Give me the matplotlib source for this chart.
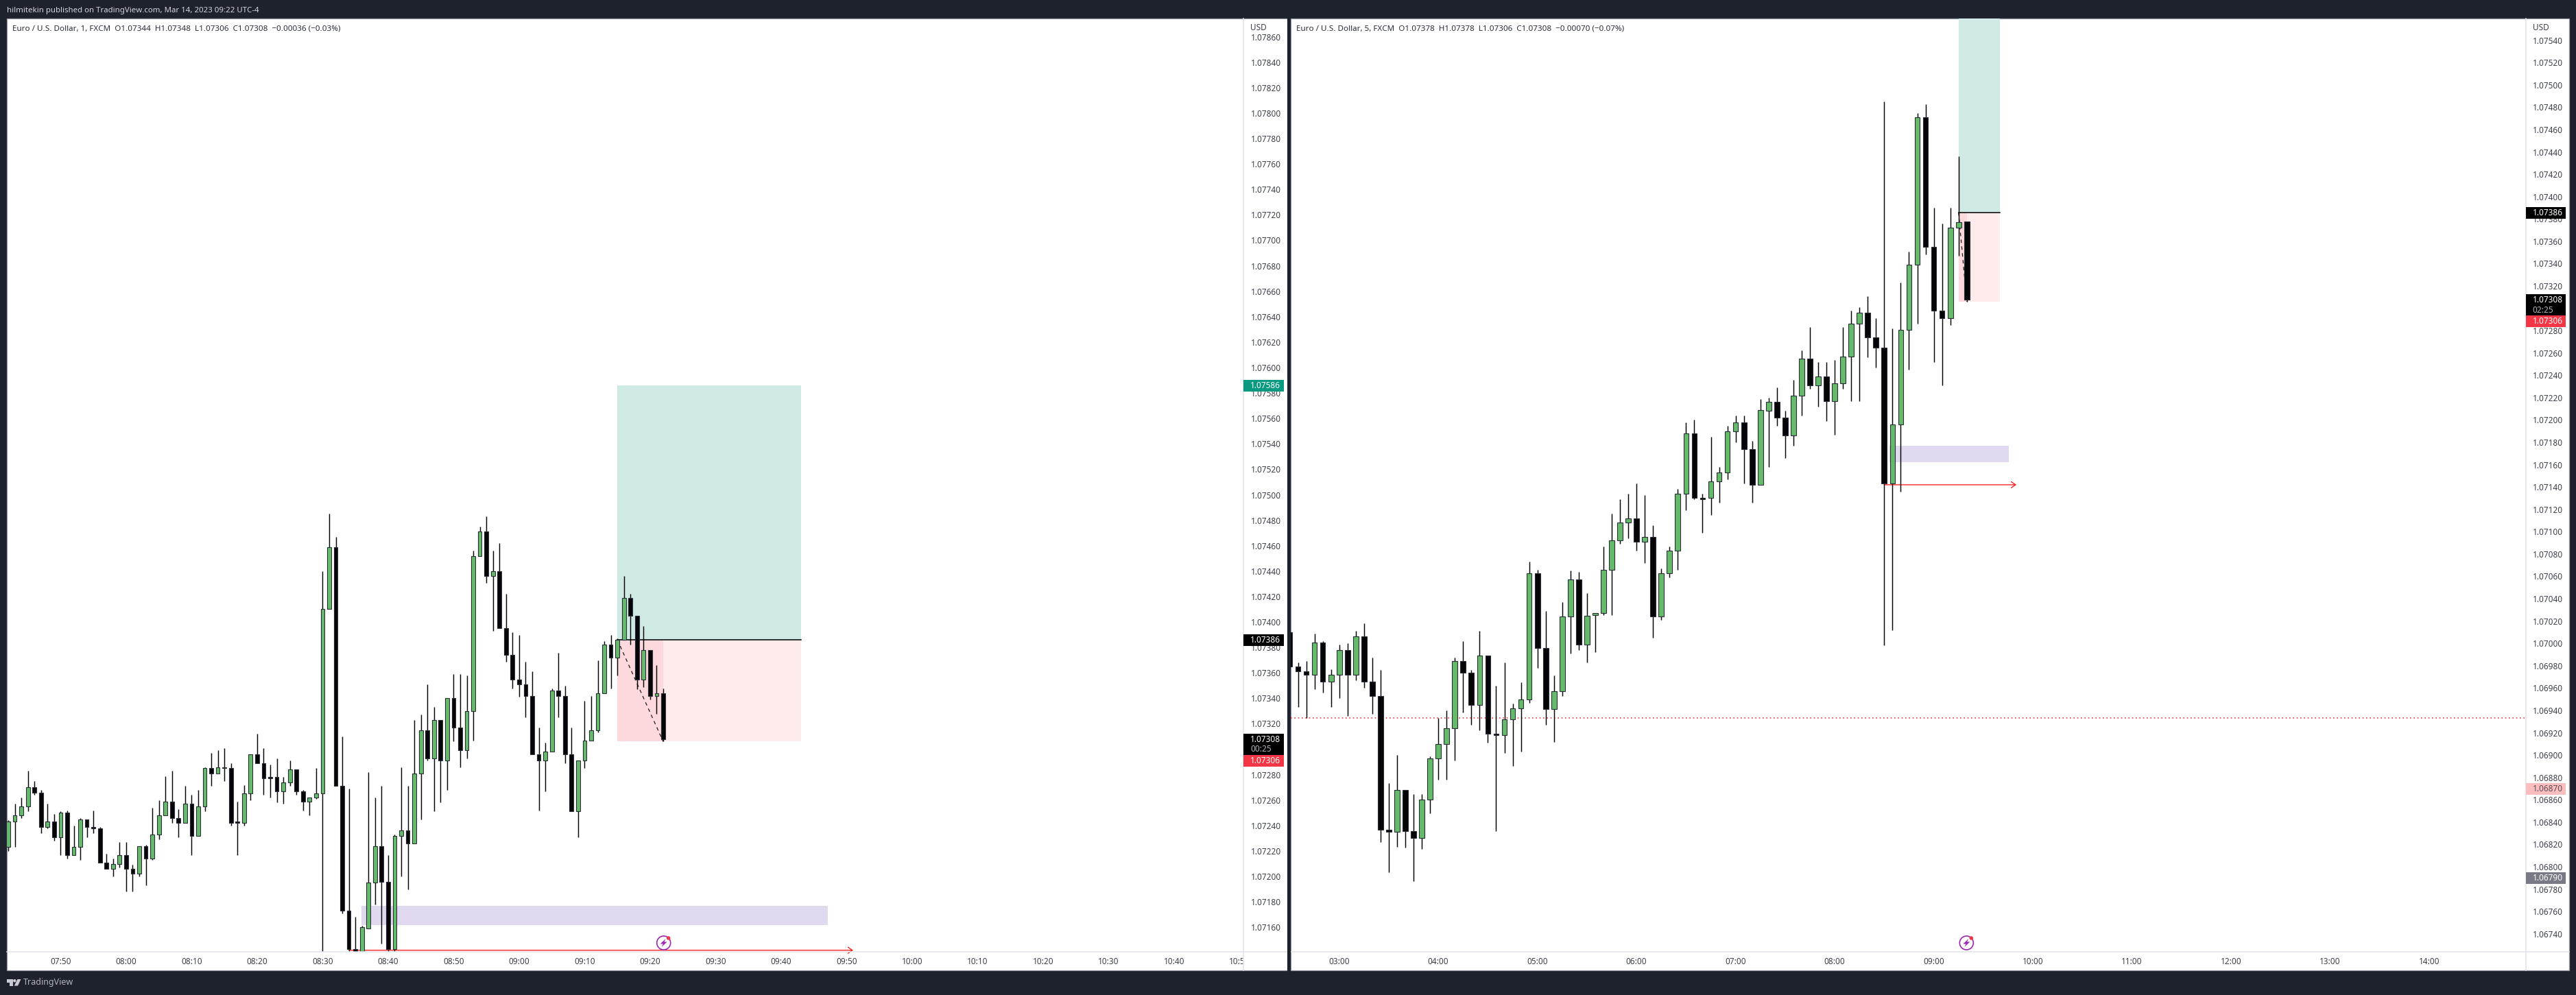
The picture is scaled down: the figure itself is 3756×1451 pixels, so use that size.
import matplotlib
matplotlib.use("Agg")
import matplotlib.pyplot as plt
from matplotlib.patches import Rectangle, Ellipse, Polygon
from matplotlib.transforms import Affine2D, Bbox

plt.rcParams['font.family'] = ['Noto Sans', 'DejaVu Sans']

W, H = 3756, 1451
POINT = 1e-5
L_BASE = 107000
R_BASE = 106000
L_START = 462   # 07:42, minutes
R_START = 150   # 02:30, minutes

# ---- 1 minute chart, points above L_BASE
L_OPEN = [223,243,248,255,270,266,239,243,231,250,217,223,245,239,238,211,206,210,217,206,202,224,214,233,248,259,246,242,257,232,255,285,281,286,285,243,242,265,296,289,278,278,267,274,284,267,259,262,265,410,459,271,173,143,120,159,195,224,196,143,232,236,226,281,315,293,323,291,340,317,299,330,452,471,436,440,395,374,355,351,342,296,291,298,346,342,296,251,291,307,315,344,382,372,386,419,405,355,378,342,344]
L_HIGH = [244,257,262,283,275,268,257,249,251,252,240,246,245,252,239,218,214,227,227,209,224,225,254,260,279,283,253,271,264,268,286,297,299,301,289,259,272,296,312,301,288,293,278,291,284,268,262,285,440,485,467,310,269,168,161,282,262,271,217,233,286,271,323,327,351,333,323,340,359,359,358,456,475,483,456,462,422,392,390,369,361,317,305,348,376,350,317,291,338,342,370,385,390,387,436,422,405,397,378,366,348]
L_LOW = [220,223,246,251,264,234,238,228,217,214,217,213,231,234,211,206,200,207,188,188,200,193,213,229,248,242,231,242,217,232,251,271,281,275,240,217,240,260,289,264,262,258,257,271,264,252,248,261,135,410,271,171,135,120,115,159,178,147,135,135,200,190,226,245,291,251,258,268,306,286,293,307,452,431,393,395,369,348,341,325,296,252,267,298,325,289,251,231,285,307,313,344,348,358,386,382,347,349,339,328,306]
L_CLOSE = [243,248,255,270,266,239,243,231,250,217,223,245,239,238,211,206,210,217,206,202,224,214,233,248,259,246,242,257,232,255,285,281,286,285,242,242,265,296,289,277,277,267,274,284,267,259,262,265,410,459,271,173,143,125,160,195,224,196,143,232,236,226,281,315,293,323,291,340,317,299,330,452,471,436,440,395,374,355,351,342,296,291,298,346,342,296,251,291,307,315,344,382,372,386,419,405,355,378,342,344,308]

# ---- 5 minute chart, points above R_BASE
R_OPEN = [1010,979,975,972,1001,966,972,994,972,1006,966,953,833,831,869,832,826,860,897,910,924,984,974,945,989,919,918,932,942,950,1063,996,941,957,1024,1057,999,1025,1027,1066,1092,1108,1112,1091,1095,1024,1063,1083,1134,1188,1130,1130,1145,1153,1190,1198,1174,1142,1208,1216,1202,1186,1222,1255,1231,1239,1217,1233,1257,1286,1296,1274,1265,1143,1196,1281,1339,1471,1355,1298,1291,1372,1378]
R_HIGH = [1010,983,984,1009,1002,977,999,1000,1011,1018,987,976,875,900,869,865,865,899,933,940,987,1002,976,1011,989,962,983,946,965,1073,1066,1029,971,1037,1065,1064,1045,1027,1087,1116,1129,1134,1143,1133,1106,1067,1087,1138,1198,1200,1134,1185,1158,1195,1204,1204,1181,1219,1220,1229,1208,1236,1262,1283,1252,1252,1254,1283,1298,1301,1311,1291,1485,1282,1323,1351,1475,1483,1390,1376,1390,1436,1378]
R_LOW = [979,943,933,959,956,943,951,935,967,960,937,822,795,818,817,787,816,848,878,878,895,938,927,922,911,832,902,890,903,947,978,927,912,953,991,994,983,992,1025,1025,1089,1094,1083,1072,1005,1021,1059,1066,1119,1129,1099,1115,1126,1147,1180,1143,1126,1142,1158,1195,1166,1177,1204,1228,1212,1199,1187,1228,1217,1217,1256,1247,998,1012,1136,1245,1286,1348,1252,1231,1285,1347,1306]
R_CLOSE = [979,975,972,1001,966,972,994,972,1006,966,953,833,831,869,832,826,860,897,910,924,984,974,945,989,919,918,932,942,950,1063,996,941,957,1024,1057,999,1025,1027,1066,1092,1108,1112,1091,1095,1024,1063,1083,1134,1188,1130,1129,1145,1153,1190,1198,1174,1142,1209,1216,1202,1186,1222,1255,1231,1239,1217,1233,1257,1286,1296,1274,1265,1143,1196,1281,1339,1471,1355,1298,1291,1372,1377,1308]

L_PRICE_LABELS = ["1.07160","1.07180","1.07200","1.07220","1.07240","1.07260","1.07280","1.07300","1.07320","1.07340","1.07360","1.07380","1.07400","1.07420","1.07440","1.07460","1.07480","1.07500","1.07520","1.07540","1.07560","1.07580","1.07600","1.07620","1.07640","1.07660","1.07680","1.07700","1.07720","1.07740","1.07760","1.07780","1.07800","1.07820","1.07840","1.07860"]
R_PRICE_LABELS = ["1.06740","1.06760","1.06780","1.06800","1.06820","1.06840","1.06860","1.06880","1.06900","1.06920","1.06940","1.06960","1.06980","1.07000","1.07020","1.07040","1.07060","1.07080","1.07100","1.07120","1.07140","1.07160","1.07180","1.07200","1.07220","1.07240","1.07260","1.07280","1.07300","1.07320","1.07340","1.07360","1.07380","1.07400","1.07420","1.07440","1.07460","1.07480","1.07500","1.07520","1.07540"]
L_TIME_LABELS = ["07:50","08:00","08:10","08:20","08:30","08:40","08:50","09:00","09:10","09:20","09:30","09:40","09:50","10:00","10:10","10:20","10:30","10:40","10:50"]
R_TIME_LABELS = ["03:00","04:00","05:00","06:00","07:00","08:00","09:00","10:00","11:00","12:00","13:00","14:00"]

HEADER = "hilmitekin published on TradingView.com, Mar 14, 2023 09:22 UTC-4"
L_LEGEND = "Euro / U.S. Dollar, 1, FXCM  O1.07344  H1.07348  L1.07306  C1.07308  \u22120.00036 (\u22120.03%)"
R_LEGEND = "Euro / U.S. Dollar, 5, FXCM  O1.07378  H1.07378  L1.07306  C1.07308  \u22120.00070 (\u22120.07%)"

# long-position tool / zones: prices
TRADE_TARGET_L, TRADE_ENTRY, TRADE_STOP = 1.07586, 1.07386, 1.07306
ZONE_TOP, ZONE_BOTTOM = 1.07177, 1.07162
ARROW_PRICE = 1.07142
DOTTED_PRICE = 1.06933

BG = '#1E222D'
GREEN = '#66BB6A'
BLACK = '#050507'
EDGE = '#2A2E39'
TXT = '#3D404A'
SEP = '#E0E3EB'
LABEL_SIZE = 8.5

fig = plt.figure(figsize=(W / 100, H / 100), dpi=100, facecolor=BG)
px = Affine2D().scale(1 / W, -1 / H).translate(0, 1) + fig.transFigure


def prect(x0, y0, x1, y1, z=3, **kw):
    r = Rectangle((x0, y0), x1 - x0, y1 - y0, transform=px, zorder=z, **kw)
    fig.add_artist(r)
    return r


def pline(xs, ys, z=3, **kw):
    l = plt.Line2D(xs, ys, transform=px, zorder=z, **kw)
    fig.add_artist(l)


def ptext(x, y, s, z=6, **kw):
    kw.setdefault('va', 'center')
    kw.setdefault('ha', 'left')
    return fig.text(x, y, s, transform=px, zorder=z, **kw)


def make_pane(x0, x1, pane_left, pane_right, t_ref, px_ref, px_per_min,
              p_ref, y_ref, px_per_point, price_labels, time_labels):
    prect(pane_left, 27, pane_right, 1415, z=-1, facecolor='white', edgecolor='#9598A1', linewidth=0.9)
    ax = fig.add_axes([x0 / W, 1 - 1388 / H, (x1 - x0) / W, (1388 - 27) / H])
    ax.patch.set_visible(False)
    for s in ax.spines.values():
        s.set_visible(False)
    ax.set_xlim(t_ref + (x0 - px_ref) / px_per_min, t_ref + (x1 - px_ref) / px_per_min)
    top = p_ref + (y_ref - 27) / px_per_point
    bot = p_ref - (1388 - y_ref) / px_per_point
    ax.set_ylim(bot * POINT, top * POINT)
    ax.yaxis.tick_right()
    ax.set_yticks([float(s) for s in price_labels], price_labels)
    ax.set_xticks([int(s[:2]) * 60 + int(s[3:]) for s in time_labels], time_labels)
    ax.tick_params(axis='both', length=0, labelsize=LABEL_SIZE, colors=TXT)
    ax.tick_params(axis='y', pad=7.4)
    ax.tick_params(axis='x', pad=5.6)
    clip = Bbox([[0, 0], [x1, H]])
    for t in ax.get_xticklabels():
        t.set_clip_on(True)
        t.set_clip_box(clip)
    pline([x1, x1], [27, 1415], z=1, color=SEP, lw=1.1)
    pline([pane_left, pane_right], [1388, 1388], z=1, color=SEP, lw=1.1)
    return ax


def candles(ax, start, step, base, op, hi, lo, cl, width, wick_lw, edge_lw):
    for i, (o, h, l, c) in enumerate(zip(op, hi, lo, cl)):
        t = start + i * step
        up = c >= o
        ax.vlines(t, (base + l) * POINT, (base + h) * POINT, color='black', lw=wick_lw, zorder=4)
        bottom = min(o, c)
        ax.bar(t, max(abs(c - o), 0.3) * POINT, bottom=(base + bottom) * POINT, width=width,
               color=GREEN if up else BLACK, edgecolor=EDGE, linewidth=edge_lw, zorder=5)


def trade(ax, t0, t_last, t1, target):
    ax.add_patch(Rectangle((t0, TRADE_ENTRY), t1 - t0, target - TRADE_ENTRY, color='#CFEAE4', lw=0, zorder=1))
    ax.add_patch(Rectangle((t0, TRADE_STOP), t1 - t0, TRADE_ENTRY - TRADE_STOP, color='#FEEBEC', lw=0, zorder=1))
    ax.add_patch(Rectangle((t0, TRADE_STOP), t_last - t0, TRADE_ENTRY - TRADE_STOP, color='#FDD8DC', lw=0, zorder=1.1))
    ax.plot([t0, t1], [TRADE_ENTRY, TRADE_ENTRY], color='black', lw=1.1, zorder=2)
    ax.plot([t0, t_last], [TRADE_ENTRY, TRADE_STOP], color='#1a1a1a', lw=0.9, ls=(0, (4, 4)), zorder=3)


def red_arrow(ax, t0, t1):
    ax.annotate('', xy=(t1, ARROW_PRICE), xytext=(t0, ARROW_PRICE), annotation_clip=False, zorder=2,
                arrowprops=dict(arrowstyle='->,head_length=0.5,head_width=0.35', color='#FF1A1A', lw=0.95,
                                shrinkA=0, shrinkB=0, mutation_scale=9))


def bolt(cx, cy):
    fig.add_artist(Ellipse((cx, cy), 20, 20, transform=px, facecolor='white', edgecolor='#9C27B0', lw=1.2, zorder=6))
    pts = [(3, -6), (-5, 1.5), (-0.8, 1.5), (-3, 6), (5, -1.5), (0.8, -1.5)]
    fig.add_artist(Polygon([(cx + a, cy + b) for a, b in pts], closed=True, transform=px,
                           facecolor='#9C27B0', edgecolor='none', zorder=7))
    fig.add_artist(Ellipse((cx + 7, cy - 7), 5.5, 5.5, transform=px, facecolor='#F23645', edgecolor='none', zorder=8))


def tag(x0, x1, y0, y1, color, label, tcolor='white', weight='bold'):
    prect(x0, y0, x1, y1, z=5, facecolor=color, edgecolor='none')
    ptext(x0 + 10, (y0 + y1) / 2, label, color=tcolor, fontsize=LABEL_SIZE, fontweight=weight)


# left pane
axL = make_pane(9.8, 1813.3, 9.8, 1876.5, 470, 88.4, 9.55, 107840, 90.7, 1.8553,
                L_PRICE_LABELS, L_TIME_LABELS)
axL.add_patch(Rectangle((515.9, ZONE_BOTTOM), 587.1 - 515.9, ZONE_TOP - ZONE_BOTTOM, color='#E0D9F0', lw=0, zorder=1))
trade(axL, 555, 562, 583, TRADE_TARGET_L)
red_arrow(axL, 514, 591)
candles(axL, L_START, 1, L_BASE, L_OPEN, L_HIGH, L_LOW, L_CLOSE, 0.6, 1.05, 0.8)

# right pane
axR = make_pane(1882, 3682.7, 1882, 3745.5, 180, 1952.7, 2.408, 107400, 286.7, 1.6288,
                R_PRICE_LABELS, R_TIME_LABELS)
axR.add_patch(Rectangle((513.2, ZONE_BOTTOM), 585.4 - 513.2, ZONE_TOP - ZONE_BOTTOM, color='#E0D9F0', lw=0, zorder=1))
trade(axR, 555, 560, 580, TRADE_TARGET_L)
red_arrow(axR, 510, 590)
axR.axhline(DOTTED_PRICE, color='#F23645', lw=1.2, ls=(0, (1, 2.2)), zorder=2)
candles(axR, R_START, 5, R_BASE, R_OPEN, R_HIGH, R_LOW, R_CLOSE, 3.2, 1.05, 0.8)

# divider strip over any candle that overruns the pane edge
prect(1877, 0, 1882, H, z=4, facecolor=BG, edgecolor='none')

# texts
ptext(10, 15.7, HEADER, color='#D1D4DC', fontsize=8.24)
ptext(18, 42.5, L_LEGEND, color='#2A2E39', fontsize=8.4)
ptext(1890, 42.5, R_LEGEND, color='#2A2E39', fontsize=8.4)

# price scale header
prect(1814, 28, 1876, 49.5, z=4, facecolor='white', edgecolor='none')
prect(3683.5, 28, 3745, 49.5, z=4, facecolor='white', edgecolor='none')
ptext(1823.3, 40.5, "USD", color=TXT, fontsize=LABEL_SIZE)
ptext(3692.7, 40.5, "USD", color=TXT, fontsize=LABEL_SIZE)

# price tags, left
tag(1813, 1872, 554, 570.5, '#089981', '1.07586')
tag(1813, 1872, 925, 942, '#000000', '1.07386')
prect(1813, 1070, 1872, 1101, z=5, facecolor='#000000', edgecolor='none')
ptext(1823, 1079, '1.07308', color='white', fontsize=LABEL_SIZE, fontweight='bold')
ptext(1823, 1092.5, '00:25', color='#B2B5BE', fontsize=LABEL_SIZE, fontweight='bold')
tag(1813, 1872, 1101, 1118, '#F23645', '1.07306')

# price tags, right
tag(3682.5, 3741, 302, 319, '#000000', '1.07386')
prect(3682.5, 429, 3741, 460, z=5, facecolor='#000000', edgecolor='none')
ptext(3692.7, 437.7, '1.07308', color='white', fontsize=LABEL_SIZE, fontweight='bold')
ptext(3692.7, 452, '02:25', color='#B2B5BE', fontsize=LABEL_SIZE, fontweight='bold')
tag(3682.5, 3741, 460, 477, '#F23645', '1.07306')
tag(3682.5, 3741, 1141.7, 1158.7, '#FBBDBD', '1.06870', tcolor='#55525A', weight='normal')
tag(3682.5, 3741, 1272, 1289, '#787B86', '1.06790')

# event icons
bolt(967.7, 1375)
bolt(2867.3, 1375)

# TradingView logo
LOGO = '#C9CBD2'
fig.add_artist(Polygon([(10, 1428), (18.5, 1428), (18.5, 1437.5), (14, 1437.5), (14, 1432.5), (10, 1432.5)],
                       closed=True, transform=px, facecolor=LOGO, edgecolor='none', zorder=6))
fig.add_artist(Ellipse((21.3, 1430.2), 4.4, 4.4, transform=px, facecolor=LOGO, edgecolor='none', zorder=6))
fig.add_artist(Polygon([(25.5, 1428), (30.5, 1428), (26, 1437.5), (20.8, 1437.5)],
                       closed=True, transform=px, facecolor=LOGO, edgecolor='none', zorder=6))
ptext(33.5, 1432.5, 'TradingView', color='#B2B5BE', fontsize=9)

fig.savefig('out.png', dpi=100, facecolor=BG)
